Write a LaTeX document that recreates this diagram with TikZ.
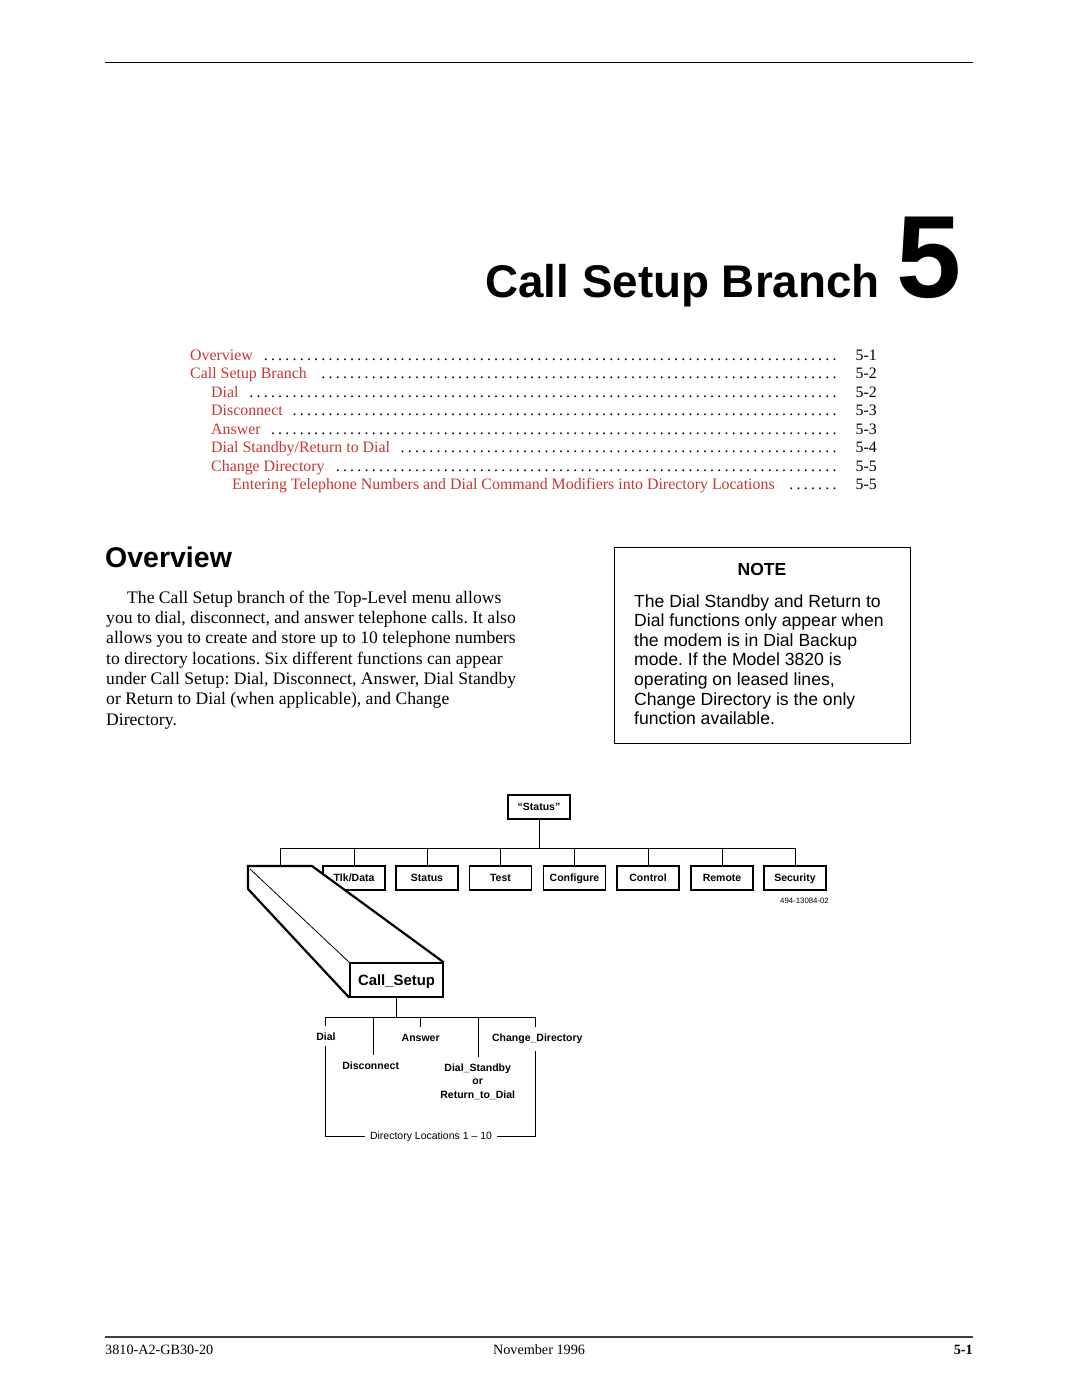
\documentclass[tikz,border=0pt]{standalone}
\usepackage{fontspec}
\setmainfont{Liberation Serif}
\setsansfont{Liberation Sans}
\usetikzlibrary{calc}
\definecolor{tocred}{RGB}{200,56,46}
\newcommand{\fsz}[2]{\fontsize{#1}{#2}\selectfont}
\newcommand{\tocentry}[2]{\hbox to 650pt{\hskip#1pt\textcolor{tocred}{#2}\hskip 6pt\leaders\hbox to 7.2pt{\hss.\hss}\hfill}}
\frenchspacing
\begin{document}
\begin{tikzpicture}[x=1pt,y=-1pt,
  body/.style={anchor=base west, inner sep=0, font=\fsz{17.6}{20}},
  tocl/.style={anchor=base west, inner sep=0, font=\fsz{15.9}{18}},
  tocp/.style={anchor=base east, inner sep=0, font=\fsz{15.9}{18}},
  notetxt/.style={anchor=base west, inner sep=0, font=\sffamily\fsz{17.6}{20}},
  mbox/.style={draw, line width=1.6, fill=white, minimum width=62, minimum height=24, inner sep=0, text height=7.6, text depth=0, font=\sffamily\bfseries\fsz{10.5}{12}},
  lbl/.style={anchor=base, inner sep=0, text height=7.6, text depth=2.2, font=\sffamily\bfseries\fsz{10.5}{12}},
  thin/.style={line width=1},
  foot/.style={inner sep=0, font=\fsz{14.2}{16}}]
\useasboundingbox (0,0) rectangle (1080,1397);
\fill[white] (0,0) rectangle (1080,1397);
% top rule
\coordinate (trl) at (105,63);
\coordinate (trr) at (973,63);
\draw[thin] (trl) -- (trr);
% title
\node[anchor=base east, inner sep=0, font=\sffamily\bfseries\fsz{45.8}{50}] (title) at (880,297) {Call Setup Branch};
\node[anchor=base west, inner sep=0, font=\sffamily\bfseries\fsz{117}{120}] (chap) at (896,297) {5};
% TOC
\node[tocl] (t1) at (190,360) {\tocentry{0}{Overview}};
\node[tocl] (t2) at (190,378.5) {\tocentry{0}{Call Setup Branch}};
\node[tocl] (t3) at (190,397) {\tocentry{21}{Dial}};
\node[tocl] (t4) at (190,415.5) {\tocentry{21}{Disconnect}};
\node[tocl] (t5) at (190,434) {\tocentry{21}{Answer}};
\node[tocl] (t6) at (190,452.5) {\tocentry{21}{Dial Standby/Return to Dial}};
\node[tocl] (t7) at (190,471) {\tocentry{21}{Change Directory}};
\node[tocl] (t8) at (190,489.5) {\tocentry{42}{Entering Telephone Numbers and Dial Command Modifiers into Directory Locations}};
\node[tocp] (p1) at (877,360) {5-1};
\node[tocp] (p2) at (877,378.5) {5-2};
\node[tocp] (p3) at (877,397) {5-2};
\node[tocp] (p4) at (877,415.5) {5-3};
\node[tocp] (p5) at (877,434) {5-3};
\node[tocp] (p6) at (877,452.5) {5-4};
\node[tocp] (p7) at (877,471) {5-5};
\node[tocp] (p8) at (877,489.5) {5-5};
% Overview
\node[anchor=base west, inner sep=0, font=\sffamily\bfseries\fsz{28.5}{32}] (ovh) at (105,567) {Overview};
\node[body] (b1) at (127,603.3) {The Call Setup branch of the Top-Level menu allows};
\node[body] (b2) at (106,623.6) {you to dial, disconnect, and answer telephone calls. It also};
\node[body] (b3) at (106,643.9) {allows you to create and store up to 10 telephone numbers};
\node[body] (b4) at (106,664.2) {to directory locations. Six different functions can appear};
\node[body] (b5) at (106,684.5) {under Call Setup: Dial, Disconnect, Answer, Dial Standby};
\node[body] (b6) at (106,704.8) {or Return to Dial (when applicable), and Change};
\node[body] (b7) at (106,725.1) {Directory.};
% NOTE box
\node[draw, line width=1, minimum width=296, minimum height=196, inner sep=0, anchor=north west] (notebox) at (614,547) {};
\node[anchor=base, inner sep=0, font=\sffamily\bfseries\fsz{17.5}{20}] (noteh) at (762,575) {NOTE};
\node[notetxt] (n1) at (634,607) {The Dial Standby and Return to};
\node[notetxt] (n2) at (634,626.6) {Dial functions only appear when};
\node[notetxt] (n3) at (634,646.2) {the modem is in Dial Backup};
\node[notetxt] (n4) at (634,665.8) {mode. If the Model 3820 is};
\node[notetxt] (n5) at (634,685.4) {operating on leased lines,};
\node[notetxt] (n6) at (634,705.0) {Change Directory is the only};
\node[notetxt] (n7) at (634,724.6) {function available.};
% Diagram top
\node[mbox] (top) at (539,807) {“Status”};
\coordinate (busL) at (280,848);
\coordinate (busR) at (795,848);
\draw[thin] (busL) -- (busR);
\draw[thin] (top.south) -- (top.south |- busL);
\node[mbox] (m1) at (354,878) {Tlk/Data};
\node[mbox] (m2) at (427,878) {Status};
\node[mbox] (m3) at (500.5,878) {Test};
\node[mbox] (m4) at (574.5,878) {Configure};
\node[mbox] (m5) at (648,878) {Control};
\node[mbox] (m6) at (722,878) {Remote};
\node[mbox] (m7) at (795,878) {Security};
\foreach \m in {m1,m2,m3,m4,m5,m6,m7} \draw[thin] (\m.north) -- (\m.north |- busL);
\node[anchor=east, inner sep=0, font=\sffamily\fsz{7.8}{9}] (figid) at (829,901) {494-13084-02};
% 3D Call_Setup block
\coordinate (cubeTop) at (280,866);
\draw[thin] (busL) -- (cubeTop);
\fill[white] (248,866) -- (312,866) -- (443,963) -- (443,997) -- (350,997) -- (248,889) -- cycle;
\draw[line width=0.8] (250,869) -- (350,963);
\node[draw, line width=1.4, minimum width=93, minimum height=34, inner sep=0, text height=10.7, text depth=0, font=\sffamily\bfseries\fsz{14.9}{16}] (cs) at (396.5,980) {Call\_Setup};
\draw[line width=2.2, line join=miter] (cs.north east) -- (312,866) -- (248,866) -- (248,889) -- (cs.south west);
\draw[line width=1.4] (cs.north east) -- (cs.south east) -- (cs.south west);
% lower tree
\coordinate (lbusL) at (325.7,1017);
\coordinate (lbusR) at (535.3,1017);
\draw[thin] (cs.south) -- (cs.south |- lbusL);
\draw[thin] (lbusL) -- (lbusR);
\node[lbl] (dial) at (326,1040.3) {Dial};
\node[lbl] (disc) at (370.7,1069.3) {Disconnect};
\node[lbl] (answ) at (420.7,1041.3) {Answer};
\node[lbl] (chg) at (537.3,1041.3) {Change\_Directory};
\node[lbl] (ds1) at (477.7,1071.3) {Dial\_Standby};
\node[lbl] (ds2) at (477.7,1084.8) {or};
\node[lbl] (ds3) at (477.7,1098.3) {Return\_to\_Dial};
\coordinate (s1) at (325.7,1017);
\coordinate (s2) at (373.3,1017);
\coordinate (s3) at (420.7,1017);
\coordinate (s4) at (478.3,1017);
\coordinate (s5) at (535.3,1017);
\draw[thin] (s1) -- ($(s1 |- dial.north)+(0,-7)$);
\draw[thin] (s2) -- ($(s2 |- disc.north)+(0,-7)$);
\draw[thin] (s3) -- ($(s3 |- answ.north)+(0,-7)$);
\draw[thin] (s4) -- ($(s4 |- ds1.north)+(0,-7)$);
\draw[thin] (s5) -- ($(s5 |- chg.north)+(0,-7)$);
\node[inner xsep=5, inner ysep=0, font=\sffamily\fsz{10.5}{12}] (dirloc) at (431,1136.5) {Directory Locations 1 – 10};
\draw[thin] ($(s1 |- dial.south)+(0,3)$) -- (s1 |- dirloc) -- (dirloc.west);
\draw[thin] (dirloc.east) -- (s5 |- dirloc) -- ($(s5 |- chg.south)+(0,7)$);
% footer
\coordinate (frl) at (105,1337);
\coordinate (frr) at (973,1337);
\draw[line width=1.2, black!75] (frl) -- (frr);
\node[foot, anchor=base west] (f1) at (105,1354) {3810-A2-GB30-20};
\node[foot, anchor=base] (f2) at (539,1354) {November 1996};
\node[foot, anchor=base east, font=\bfseries\fsz{14.2}{16}] (f3) at (973,1354) {5-1};
\end{tikzpicture}
\end{document}
